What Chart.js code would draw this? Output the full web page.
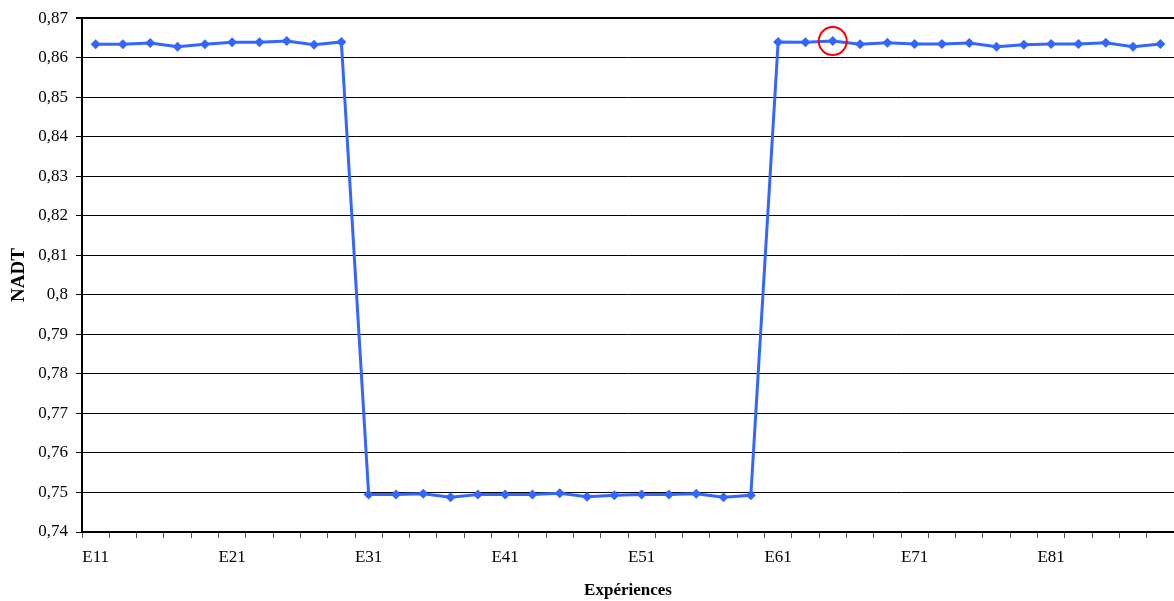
<!DOCTYPE html>
<html>
<head>
<meta charset="utf-8">
<style>
    html, body { margin: 0; padding: 0; background: #fff; overflow: hidden; }
    #wrap { width: 1174px; height: 601px; }
    canvas { display: block; }
</style>
</head>
<body>
<div id="wrap"><canvas id="myChart"></canvas></div>
<script src="https://cdn.jsdelivr.net/npm/chart.js@4.4.1/dist/chart.umd.min.js"></script>
<script>
    // catégories E11..E85
    var groupes = ['1', '2', '3', '4', '5', '6', '7', '8'];
    var sousIndices = ['1', '2', '3', '4', '5'];
    var experiences = [];
    groupes.forEach(g => sousIndices.forEach(s => experiences.push('E' + g + s)));

    // valeurs NADT
    var nadtE1E2 = [0.8634, 0.8634, 0.8637, 0.8628, 0.8634, 0.8639, 0.8639, 0.8642, 0.8633, 0.8640];
    var nadtE3E5 = [0.7495, 0.7495, 0.7497, 0.7488, 0.7495, 0.7495, 0.7495, 0.7498, 0.7489, 0.7493,
                    0.7495, 0.7495, 0.7497, 0.7488, 0.7493];
    var nadtE6E8 = [0.8640, 0.8639, 0.8642, 0.8634, 0.8638, 0.8635, 0.8635, 0.8637, 0.8628, 0.8633,
                    0.8635, 0.8635, 0.8638, 0.8628, 0.8635];
    var nadt = nadtE1E2.concat(nadtE3E5, nadtE6E8);

    // point entouré en rouge
    var pointEntoure = 'E63';

    var yMin = 0.74, yMax = 0.87, yPas = 0.01;

    var entoure = experiences.map((e, i) => e === pointEntoure ? nadt[i] : null);

    var police = "'Liberation Serif', 'Times New Roman', serif";
    Chart.defaults.font.family = police;
    Chart.defaults.color = '#000';

    var ctx = document.getElementById('myChart').getContext('2d');
    var myChart = new Chart(ctx, {
        type: 'line',
        data: {
            labels: experiences,
            datasets: [{
                label: 'entouré',
                data: entoure,
                showLine: false,
                pointStyle: 'circle',
                pointRadius: 14,
                pointHoverRadius: 14,
                pointBorderWidth: 2,
                pointBorderColor: '#ff0000',
                pointBackgroundColor: 'rgba(0,0,0,0)',
                order: 0
            }, {
                label: 'NADT',
                data: nadt,
                borderColor: '#3366ff',
                backgroundColor: '#3366ff',
                borderWidth: 3,
                pointStyle: 'rectRot',
                pointRadius: 5,
                pointBorderWidth: 0,
                pointBackgroundColor: '#3366ff',
                tension: 0,
                order: 1
            }]
        },
        options: {
            responsive: true,
            maintainAspectRatio: false,
            animation: false,
            layout: { autoPadding: false, padding: { top: 18, right: -4, left: 0, bottom: 0 } },
            plugins: {
                legend: { display: false },
                tooltip: { enabled: false }
            },
            scales: {
                x: {
                    offset: true,
                    afterFit: s => { s.height = 69; s.paddingRight = 0; s.paddingLeft = 0; },
                    grid: {
                        offset: true,
                        drawOnChartArea: false,
                        tickLength: 6,
                        color: '#000',
                        tickColor: '#555'
                    },
                    border: { color: '#000', width: 2 },
                    ticks: {
                        autoSkip: false,
                        maxRotation: 0,
                        padding: 9,
                        font: { size: 17 },
                        callback: function (v, i) { return i % 5 === 0 ? this.getLabelForValue(v) : ''; }
                    },
                    title: {
                        display: true,
                        text: 'Expériences',
                        font: { size: 17, weight: 'bold' },
                        padding: { top: 4, bottom: 0 }
                    }
                },
                y: {
                    min: yMin,
                    max: yMax,
                    afterFit: s => { s.width = 82; },
                    grid: {
                        color: '#000',
                        lineWidth: c => (c.tick && Math.abs(c.tick.value - yMax) < 1e-9) ? 2 : 1,
                        tickLength: 6,
                        tickColor: '#000'
                    },
                    border: { color: '#000', width: 2 },
                    ticks: {
                        stepSize: yPas,
                        padding: 8,
                        font: { size: 17 },
                        callback: v => String(parseFloat(v.toFixed(2))).replace('.', ',')
                    },
                    title: {
                        display: true,
                        text: 'NADT',
                        font: { size: 19, weight: 'bold' },
                        padding: { top: 8, bottom: 4 }
                    }
                }
            }
        }
    });
</script>
</body>
</html>
